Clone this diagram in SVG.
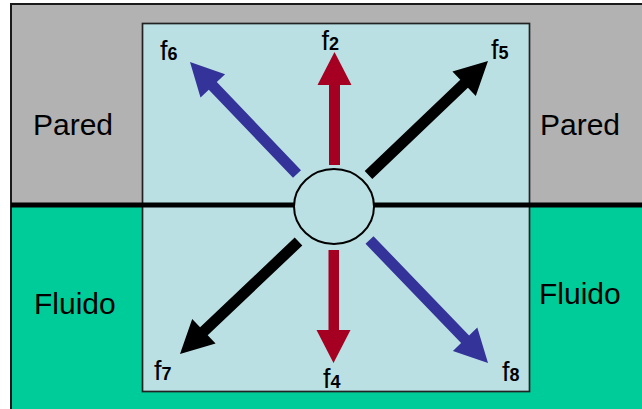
<svg xmlns="http://www.w3.org/2000/svg" width="642" height="409" viewBox="0 0 642 409">
<style>
.lbl{font-family:"Liberation Sans",Arial,sans-serif;font-size:30px;fill:#000}
.f{font-family:"Liberation Sans",Arial,sans-serif;font-size:27px;fill:#000}
.sub{font-size:18px;font-weight:bold}
.red{fill:#A50021}
.blue{fill:#333399}
.blk{fill:#000}
</style>
<rect width="642" height="409" fill="#FFFFFF"/>
<g id="pared">
<rect x="11" y="4" width="631" height="201" fill="#B2B2B2"/>
</g>
<g id="fluido">
<rect x="11" y="205" width="631" height="204" fill="#00CC99"/>
</g>
<rect x="11" y="4" width="640" height="420" fill="none" stroke="#1a1a1a" stroke-width="2"/>
<g id="cell">
<rect x="142.5" y="23.5" width="387" height="368" fill="#BBE0E3" stroke="#222" stroke-width="1.7"/>
</g>
<g id="wall-line">
<line x1="11" y1="205" x2="642" y2="205" stroke="#000" stroke-width="5"/>
</g>
<g id="node">
<ellipse cx="334" cy="206.5" rx="40" ry="37.5" fill="#BBE0E3" stroke="#000" stroke-width="2"/>
</g>
<g id="connectors">
<polygon id="a2" class="red" points="329,165 329,85 317.5,85 334.5,52 351.5,85 340,85 340,165"/>
<polygon id="a4" class="red" points="328.5,250 328.5,330 316.5,330 333.5,363 350.5,330 339,330 339,250"/>
<polygon id="a6" class="blue" points="301,170.2 216.8,82.1 225.1,74.2 190,62 200.5,97.6 208.8,89.7 293,177.8"/>
<polygon id="a5" class="blk" points="372.3,179 467.9,87.8 475.8,96.1 488,61 452.4,71.5 460.3,79.8 364.7,171"/>
<polygon id="a7" class="blk" points="294.7,237.5 200.1,327.3 192.2,319 180,354 215.6,343.6 207.7,335.3 302.3,245.5"/>
<polygon id="a8" class="blue" points="365.5,243.8 461.1,343 452.9,351 488,363 477.3,327.4 469.1,335.4 373.5,236.2"/>
</g>
<g id="labels">
<text class="f" x="160" y="60">f<tspan class="sub">6</tspan></text>
<text class="f" x="321.5" y="50">f<tspan class="sub">2</tspan></text>
<text class="f" x="491" y="59">f<tspan class="sub">5</tspan></text>
<text class="f" x="154" y="380">f<tspan class="sub">7</tspan></text>
<text class="f" x="323" y="388">f<tspan class="sub">4</tspan></text>
<text class="f" x="502" y="381">f<tspan class="sub">8</tspan></text>
<text class="lbl" x="33" y="135">Pared</text>
<text class="lbl" x="540" y="135">Pared</text>
<text class="lbl" x="34" y="314">Fluido</text>
<text class="lbl" x="539" y="304">Fluido</text>
</g>
</svg>
